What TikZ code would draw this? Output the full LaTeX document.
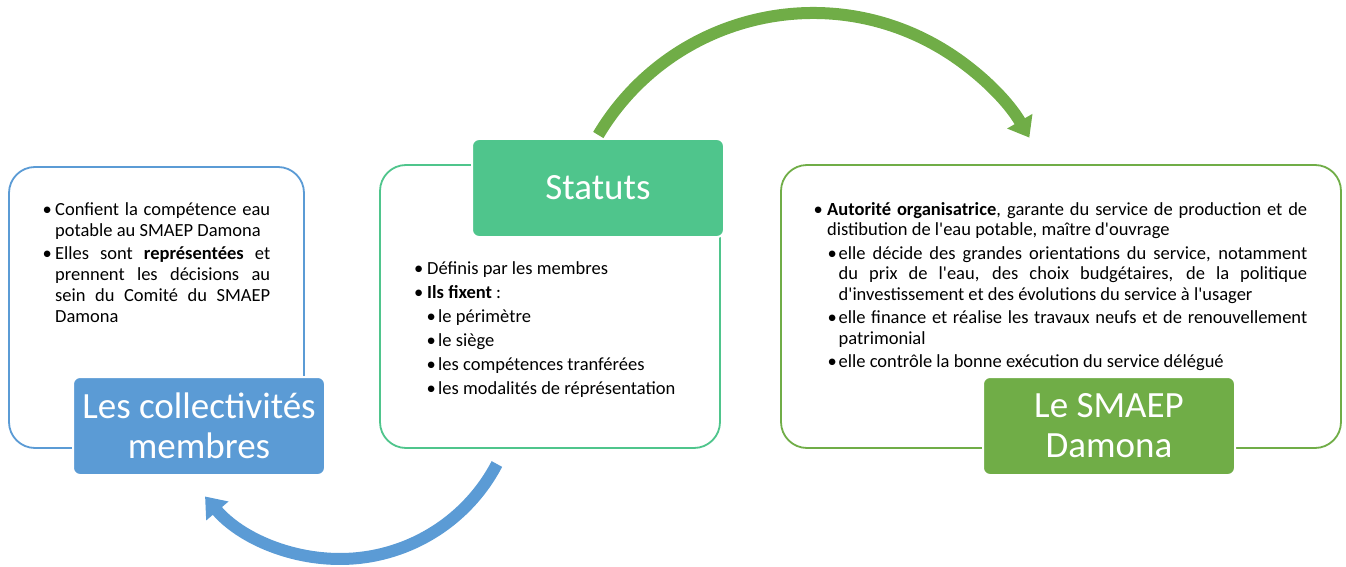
\documentclass[tikz,border=0pt]{standalone}
\usepackage{fontspec}
\setmainfont{Carlito}[Ligatures=TeXOff]
\usetikzlibrary{arrows.meta}
\definecolor{cblue}{HTML}{5B9BD5}
\definecolor{cmint}{HTML}{4FC58C}
\definecolor{cgreen}{HTML}{70AD47}
\newcommand\bul[3]{\leftskip=#1\relax\hangindent=#2\relax\hangafter=1\relax\noindent\makebox[#2][l]{\makebox[0pt][c]{•}}#3\par}
\begin{document}
\begin{tikzpicture}[x=1pt,y=-1pt,
  outline/.style={draw=#1, line width=1.8pt, rounded corners=26pt, fill=white, inner sep=0pt},
  labelbox/.style={fill=#1, draw=white, line width=2pt, rounded corners=7pt, minimum width=252pt, minimum height=98pt, inner sep=0pt, text=white, align=center, font=\fontsize{37}{40}\selectfont},
  bodytext/.style={anchor=base west, inner sep=0pt, align=justify, text=black},
  arc arrow/.style={line width=12pt, draw=#1, -{Triangle[width=28pt,length=19pt]}}
]
\useasboundingbox (0,0) rectangle (1346,567);

% outline boxes
\node[outline=cblue, minimum width=295pt, minimum height=281pt] (lbox) at (156.5,307.5) {};
\node[outline=cmint, minimum width=340pt, minimum height=283pt] (sbox) at (550,306.5) {};
\node[outline=cgreen, minimum width=560pt, minimum height=283pt] (rbox) at (1061,306.5) {};

% body texts
\node[bodytext, text width=223pt, font=\fontsize{18.5}{21}\selectfont] (ltext) at (47,215.5) {\hyphenpenalty=10000\exhyphenpenalty=10000\setlength\parskip{2pt}%
\bul{0pt}{8pt}{Confient la compétence eau potable au SMAEP Damona}%
\bul{0pt}{8pt}{Elles sont \textbf{représentées} et prennent les décisions au sein du Comité du SMAEP Damona}};

\node[bodytext, text width=290pt, font=\fontsize{18.5}{20}\selectfont] (stext) at (418.5,274.5) {\hyphenpenalty=10000\exhyphenpenalty=10000\setlength\parskip{4pt}%
\bul{0pt}{8.5pt}{Définis par les membres}%
\bul{0pt}{8.5pt}{\textbf{Ils fixent} :}%
\bul{12.5pt}{7pt}{le périmètre}%
\bul{12.5pt}{7pt}{le siège}%
\bul{12.5pt}{7pt}{les compétences tranférées}%
\bul{12.5pt}{7pt}{les modalités de réprésentation}};

\node[bodytext, text width=489pt, font=\fontsize{18.5}{20.5}\selectfont] (rtext) at (818,215) {\hyphenpenalty=10000\exhyphenpenalty=10000\setlength\parskip{3pt}%
\bul{0pt}{9pt}{\textbf{Autorité organisatrice}, garante du service de production et de distibution de l'eau potable, maître d'ouvrage}%
\bul{14pt}{6.5pt}{elle décide des grandes orientations du service, notamment du prix de l'eau, des choix budgétaires, de la politique d'investissement et des évolutions du service à l'usager}%
\bul{14pt}{6.5pt}{elle finance et réalise les travaux neufs et de renouvellement patrimonial}%
\bul{14pt}{6.5pt}{elle contrôle la bonne exécution du service délégué}};

% label boxes
\node[labelbox=cblue] (llab) at (199,426) {Les collectivités\\membres};
\node[labelbox=cmint] (slab) at (598,188) {Statuts};
\node[labelbox=cgreen] (rlab) at (1109,426) {Le SMAEP\\Damona};

% arrows
\coordinate (gs) at (598.3,135);
\coordinate (bs) at (496.9,464);
\draw[arc arrow=cgreen] (gs) arc[start angle=-149.2, end angle=-30.1, radius=250];
\draw[arc arrow=cblue] (bs) arc[start angle=27.6, end angle=139.7, radius=177];
\end{tikzpicture}
\end{document}
